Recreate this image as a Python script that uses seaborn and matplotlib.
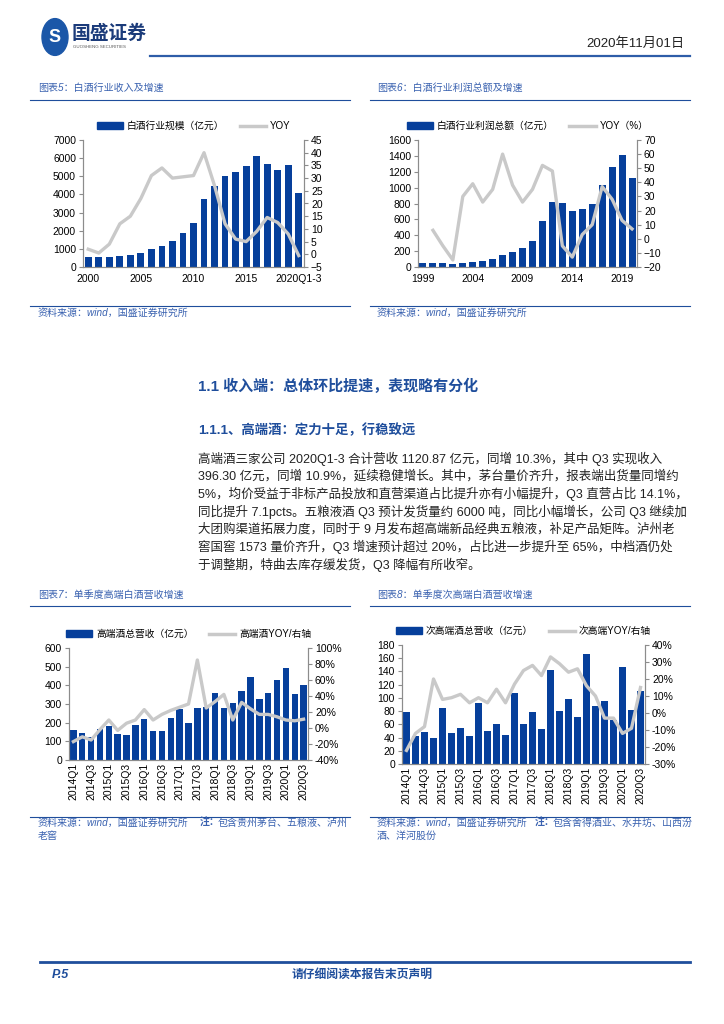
import numpy as np
import matplotlib
matplotlib.use("Agg")
import matplotlib.pyplot as plt
import matplotlib.ticker as mticker
from matplotlib.lines import Line2D
from matplotlib.patches import Rectangle, Circle
import seaborn as sns

plt.rcParams['font.family'] = ['Liberation Sans', 'Noto Sans CJK SC']

W, H = 724, 1024
BAR = '#063F9B'
LINE = '#C9C9C9'
BLUE = '#1F4E9C'
SPINE = '#8C8C8C'

# ---- chart 5: liquor industry revenue ----
rev_years = [str(y) for y in range(2000, 2020)] + ["2020Q1-3"]
rev_values = [560, 550, 540, 600, 660, 760, 1010, 1130, 1450, 1880, 2450,
              3760, 4470, 5040, 5260, 5560, 6130, 5650, 5360, 5620, 4070]
rev_yoy = [2, 0.5, 4, 12, 15, 22, 31, 34, 30, 30.5, 31,
           40, 27, 12, 6, 5, 9, 14.5, 12.5, 8, -0.5]
rev_ticks = ["2000", "2005", "2010", "2015", "2020Q1-3"]

# ---- chart 6: liquor industry profit ----
profit_years = [str(y) for y in range(1999, 2021)]
profit_values = [45, 50, 45, 40, 45, 65, 80, 105, 145, 195, 245, 325,
                 580, 820, 810, 705, 730, 800, 1030, 1255, 1405, 1120]
profit_yoy = [np.nan, 6, -5, -15, 30, 39, 26, 35, 60, 38, 26, 35,
              52, 48, -5, -13, 3, 10, 37, 28, 13, 7]
profit_ticks = ["1999", "2004", "2009", "2014", "2019"]

# ---- charts 7 & 8: quarterly ----
quarters = [f"{y}Q{q}" for y in range(2014, 2021) for q in range(1, 5)][:27]
quarter_ticks = quarters[::2]
high_values = [163, 145, 123, 168, 180, 140, 133, 185, 217, 155, 153, 224,
               272, 198, 280, 282, 360, 280, 308, 372, 445, 325, 360, 430,
               495, 355, 400]
high_yoy = [-17, -11, -15, -2, 10, -3, 6, 10, 23, 10, 17, 22,
            26, 30, 85, 25, 33, 42, 10, 32, 24, 17, 17, 14, 10, 9, 11]
sub_values = [78, 43, 49, 39, 84, 47, 55, 42, 92, 50, 61, 44,
              107, 61, 79, 53, 142, 80, 98, 71, 167, 88, 95, 66,
              146, 81, 110]
sub_yoy = [-22, -12, -8, 20, 8, 9, 11, 6, 9, 6, 14, 6,
           17, 25, 28, 22, 33, 29, 24, 26, 16, 10, -3, -3,
           -12, -9, 15]

fig = plt.figure(figsize=(W / 100, H / 100), dpi=100)


def ftxt(x, y, s, **kw):
    kw.setdefault('va', 'center')
    return fig.text(x / W, 1 - y / H, s, **kw)


def hline(x0, x1, y, lw=0.8, color=BLUE):
    fig.add_artist(Line2D([x0 / W, x1 / W], [1 - y / H, 1 - y / H],
                          transform=fig.transFigure, lw=lw, color=color))


def bar_line_chart(box, cats, bars, yoy, ylim, ystep, ylim2, ystep2, ticks,
                   labels, width=0.65, pct=False, rotate=False):
    x0, y0, x1, y1 = box
    ax = fig.add_axes([x0 / W, 1 - y1 / H, (x1 - x0) / W, (y1 - y0) / H])
    sns.barplot(x=cats, y=bars, ax=ax, color=BAR, width=width, saturation=1)
    ax2 = ax.twinx()
    pos = np.arange(len(cats))
    sns.lineplot(x=pos, y=yoy, ax=ax2, color=LINE, linewidth=2.4,
                 errorbar=None)
    ax.set_xlim(-0.5, len(cats) - 0.5)
    ax.set_ylim(*ylim)
    ax.set_yticks(np.arange(ylim[0], ylim[1] + 1e-9, ystep))
    ax2.set_ylim(*ylim2)
    ax2.set_yticks(np.arange(ylim2[0], ylim2[1] + 1e-9, ystep2))
    if pct:
        ax2.yaxis.set_major_formatter(
            mticker.FuncFormatter(lambda v, p: f"{v:.0f}%"))
    ax.set_xticks([cats.index(t) for t in ticks])
    ax.set_xticklabels(ticks, rotation=90 if rotate else 0)
    for a in (ax, ax2):
        a.set_xlabel("")
        a.set_ylabel("")
        a.spines['top'].set_visible(False)
        for s in ('left', 'right', 'bottom'):
            a.spines[s].set_color(SPINE)
            a.spines[s].set_linewidth(0.8)
        a.tick_params(axis='y', length=3, width=0.8, color=SPINE,
                      labelsize=7.5, pad=2)
    ax.tick_params(axis='x', length=0, labelsize=7.5, pad=2 if rotate else 5)
    handles = [Rectangle((0, 0), 1, 1, color=BAR),
               Line2D([], [], color=LINE, lw=2.5)]
    ax2.legend(handles, labels, loc='center', ncol=2, frameon=False,
               bbox_to_anchor=(0.5, 1 + 14 / (y1 - y0)), fontsize=7,
               handlelength=2.7, handleheight=0.75, handletextpad=0.4,
               columnspacing=1.6, borderaxespad=0)
    return ax, ax2


# ---------------- header ----------------
fig.add_artist(Circle((55 / W, 1 - 37 / H), 13 / W, transform=fig.transFigure,
                      color='#1B57A8'))
ftxt(55, 37, "S", ha='center', fontsize=13, fontweight='bold', color='white')
ftxt(72, 34, "国盛证券", fontsize=13.5, fontweight='bold', color='#1B3B7A')
ftxt(73, 47, "GUOSHENG SECURITIES", fontsize=3.2, color='#555555')
ftxt(684, 44, "2020年11月01日", ha='right', fontsize=9.5, color='#222222')
hline(150, 690, 56, lw=1.6, color='#2E5DA8')

# ---------------- top charts ----------------
ttl = dict(fontsize=7.2, color='#3A62B0', style='italic')
ftxt(38, 88, "图表5：白酒行业收入及增速", **ttl)
ftxt(377, 88, "图表6：白酒行业利润总额及增速", **ttl)
hline(30, 350, 100)
hline(370, 690, 100)

bar_line_chart((83, 140, 304, 267), rev_years, rev_values, rev_yoy,
               (0, 7000), 1000, (-5, 45), 5, rev_ticks,
               ["白酒行业规模（亿元）", "YOY"], width=0.65)
bar_line_chart((418, 140, 637, 267), profit_years, profit_values, profit_yoy,
               (0, 1600), 200, (-20, 70), 10, profit_ticks,
               ["白酒行业利润总额（亿元）", "YOY（%）"], width=0.7)

hline(30, 350, 306)
hline(370, 690, 306)
ftxt(38, 313, "资料来源：wind，国盛证券研究所", **ttl)
ftxt(377, 313, "资料来源：wind，国盛证券研究所", **ttl)

# ---------------- text section ----------------
ftxt(198, 386, "1.1 收入端：总体环比提速，表现略有分化", fontsize=10.8,
     fontweight='bold', color=BLUE)
ftxt(198, 430, "1.1.1、高端酒：定力十足，行稳致远", fontsize=9.6,
     fontweight='bold', color=BLUE)
para = [
    "高端酒三家公司 2020Q1-3 合计营收 1120.87 亿元，同增 10.3%，其中 Q3 实现收入",
    "396.30 亿元，同增 10.9%，延续稳健增长。其中，茅台量价齐升，报表端出货量同增约",
    "5%，均价受益于非标产品投放和直营渠道占比提升亦有小幅提升，Q3 直营占比 14.1%，",
    "同比提升 7.1pcts。五粮液酒 Q3 预计发货量约 6000 吨，同比小幅增长，公司 Q3 继续加",
    "大团购渠道拓展力度，同时于 9 月发布超高端新品经典五粮液，补足产品矩阵。泸州老",
    "窖国窖 1573 量价齐升，Q3 增速预计超过 20%，占比进一步提升至 65%，中档酒仍处",
    "于调整期，特曲去库存缓发货，Q3 降幅有所收窄。",
]
for i, line in enumerate(para):
    ftxt(198, 459 + i * 17.6, line, fontsize=9.0, color='#222222')

# ---------------- bottom charts ----------------
ftxt(38, 595, "图表7：单季度高端白酒营收增速", **ttl)
ftxt(377, 595, "图表8：单季度次高端白酒营收增速", **ttl)
hline(30, 350, 606)
hline(370, 690, 606)

bar_line_chart((69, 648, 308, 760), quarters, high_values, high_yoy,
               (0, 600), 100, (-40, 100), 20, quarter_ticks,
               ["高端酒总营收（亿元）", "高端酒YOY/右轴"], width=0.72,
               pct=True, rotate=True)
bar_line_chart((402, 645, 645, 764), quarters, sub_values, sub_yoy,
               (0, 180), 20, (-30, 40), 10, quarter_ticks,
               ["次高端酒总营收（亿元）", "次高端YOY/右轴"], width=0.72,
               pct=True, rotate=True)

hline(30, 350, 817)
hline(370, 690, 817)
ftxt(38, 823, "资料来源：wind，国盛证券研究所", **ttl)
ftxt(200, 823, "注：", fontweight='bold', **ttl)
ftxt(218, 823, "包含贵州茅台、五粮液、泸州", **ttl)
ftxt(38, 836, "老窖", **ttl)
ftxt(377, 823, "资料来源：wind，国盛证券研究所", **ttl)
ftxt(535, 823, "注：", fontweight='bold', **ttl)
ftxt(553, 823, "包含舍得酒业、水井坊、山西汾", **ttl)
ftxt(377, 836, "酒、洋河股份", **ttl)

# ---------------- footer ----------------
hline(40, 690, 962, lw=2, color=BLUE)
ftxt(52, 975, "P.5", fontsize=9, fontweight='bold', style='italic', color=BLUE)
ftxt(362, 975, "请仔细阅读本报告末页声明", ha='center', fontsize=8.5,
     fontweight='bold', style='italic', color=BLUE)

fig.savefig("out.png", dpi=100)
